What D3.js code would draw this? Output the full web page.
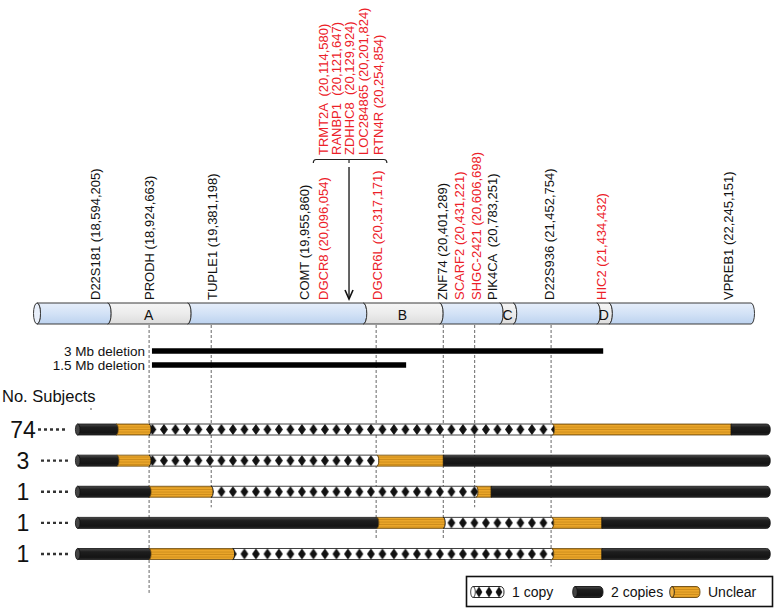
<!DOCTYPE html>
<html><head><meta charset="utf-8">
<script src="https://cdn.jsdelivr.net/npm/d3@7/dist/d3.min.js"></script>
<style>
html,body{margin:0;padding:0;background:#fff;}
text{font-family:"Liberation Sans",Arial,sans-serif;white-space:pre;}
</style></head>
<body><svg id="chart" width="778" height="609"></svg>
<script>
// ---------- DATA (schematic map units 0-100 along the chromosome bar) ----------
const geneNames = ["D22S181","PRODH","TUPLE1","COMT","DGCR8","DGCR6L","ZNF74","SCARF2","SHGC-2421","PIK4CA ","D22S936","HIC2","VPREB1"];
const geneCoords = ["18,594,205","18,924,663","19,381,198","19,955,860","20,096,054","20,317,171","20,401,289","20,431,221","20,606,698","20,783,251","21,452,754","21,434,432","22,245,151"];
const geneMapPos = [8.1,15.8,24.6,37.5,40.1,47.6,56.7,59.2,61.5,63.7,71.8,79.1,96.8];
const geneIsRed = [false,false,false,false,true,true,false,true,true,false,false,true,false];

const clusterNames = ["TRMT2A ","RANBP1 ","ZDHHC8 ","LOC284865","RTN4R"];
const clusterCoords = ["20,114,580","20,121,647","20,129,924","20,201,824","20,254,854"];
const clusterMapPos = [40.1,41.9,43.8,45.7,47.8];
const clusterSpan = [38.7,49.0];
const clusterArrowPos = 43.7;

const bandBreaks = [0,9.9,21.1,45.7,56.4,64.8,66.7,78.4,80.1,100];
const bandLabels = ["","A","","B","","C","","D",""];

const deletionNames = ["3 Mb deletion","1.5 Mb deletion"];
const deletionStart = [16.1,16.1];
const deletionEnd = [79.3,51.7];

const subjectCounts = ["74","3","1","1","1"];
const rowBreaks = [
  [5.7,11.1,15.7,72.2,97.2,102.7],
  [5.7,11.2,15.7,47.6,56.9,102.7],
  [5.7,15.7,24.4,61.5,63.6,102.7],
  [5.7,47.6,56.9,72.1,79.1,102.7],
  [5.7,15.7,27.4,72.1,79.1,102.7]
];
const rowStates = [
  ["two","unclear","one","unclear","two"],
  ["two","unclear","one","unclear","two"],
  ["two","unclear","one","unclear","two"],
  ["two","unclear","one","unclear","two"],
  ["two","unclear","one","unclear","two"]
];

const guidePos = [15.7,24.4,47.5,56.9,61.3,72.0];
const guideEndRow = [5.25,2.5,3.5,3.5,2.5,4.4];

const legendKeys = ["one","two","unclear"];
const legendLabels = ["1 copy","2 copies","Unclear"];

// ---------- DRAWING ----------
const svg = d3.select("#chart");
const defs = svg.append("defs");
const x = d3.scaleLinear().domain([0,100]).range([37,751]);
const yRow = d3.scaleLinear().domain([0,4]).range([429.5,554]);
const barTop = 303, barBot = 324, barH = barBot-barTop;
const RED = "#ec2028";

function vgrad(id, stops){
  const g = defs.append("linearGradient").attr("id",id).attr("x1",0).attr("y1",0).attr("x2",0).attr("y2",1);
  stops.forEach(s=>g.append("stop").attr("offset",s[0]).attr("stop-color",s[1]));
}
vgrad("gBlue",[[0,"#e6eefa"],[0.5,"#d3e2f6"],[1,"#bcd2ef"]]);
vgrad("gGray",[[0,"#f6f6f6"],[0.5,"#ececec"],[1,"#dcdcdc"]]);
vgrad("gBlack",[[0,"#4a4a4a"],[0.3,"#1e1e1e"],[0.8,"#141414"],[1,"#2c2c2c"]]);
const stripe = defs.append("pattern").attr("id","pOrange").attr("patternUnits","userSpaceOnUse")
  .attr("width",6).attr("height",2.5);
stripe.append("rect").attr("width",6).attr("height",2.5).attr("fill","#eba62a");
stripe.append("rect").attr("y",1.6).attr("width",6).attr("height",0.8).attr("fill","#c78816");

function diamondPattern(id, x0, y0, w, h){
  const p = defs.append("pattern").attr("id",id).attr("patternUnits","userSpaceOnUse")
    .attr("x",x0).attr("y",y0).attr("width",w).attr("height",h);
  p.append("rect").attr("width",w).attr("height",h).attr("fill","#fff");
  const c = w/2, hw = w*0.34;
  p.append("path").attr("d",`M${c-hw},${h/2}L${c},0L${c+hw},${h/2}L${c},${h}Z`).attr("fill","#111");
}

function segPath(x0,x1,t,b,r){
  const ry=(b-t)/2;
  return `M${x0},${t}L${x1},${t}A${r},${ry} 0 0 1 ${x1},${b}L${x0},${b}A${r},${ry} 0 0 0 ${x0},${t}Z`;
}

// --- chromosome bar ---
const gBar = svg.append("g");
bandLabels.forEach((lab,i)=>{
  const x0=x(bandBreaks[i]), x1=x(bandBreaks[i+1]);
  gBar.append("path").attr("d",segPath(x0,x1,barTop,barBot,3.5))
    .attr("fill", lab ? "url(#gGray)" : "url(#gBlue)")
    .attr("stroke","#3a3a3a").attr("stroke-width",1);
  if(lab){
    gBar.append("text").attr("x",(x0+x1)/2+1).attr("y",barBot-4.5).attr("text-anchor","middle")
      .attr("font-size",14).attr("fill","#111").text(lab);
  }
});
gBar.append("ellipse").attr("cx",x(0)).attr("cy",(barTop+barBot)/2).attr("rx",3.5).attr("ry",barH/2)
  .attr("fill","#e9f0fb").attr("stroke","#3a3a3a");

// --- gene labels (rotated) ---
const labelBase = 300;
geneNames.forEach((n,i)=>{
  svg.append("text").attr("transform",`translate(${x(geneMapPos[i])},${labelBase}) rotate(-90)`)
    .attr("dy","0.36em").attr("font-size",13).attr("fill",geneIsRed[i]?RED:"#111")
    .text(`${n} (${geneCoords[i]})`);
});
clusterNames.forEach((n,i)=>{
  svg.append("text").attr("transform",`translate(${x(clusterMapPos[i])},155) rotate(-90)`)
    .attr("dy","0.36em").attr("font-size",13).attr("fill",RED)
    .text(`${n} (${clusterCoords[i]})`);
});
const bx0=x(clusterSpan[0]), bx1=x(clusterSpan[1]), bxc=x(clusterArrowPos);
svg.append("path").attr("d",`M${bx0},163Q${bx0},159.5 ${bx0+3},159.5L${bx1-3},159.5Q${bx1},159.5 ${bx1},163M${bxc},159.5L${bxc},163`)
  .attr("fill","none").attr("stroke","#222").attr("stroke-width",1.2);
svg.append("line").attr("x1",bxc).attr("y1",167).attr("x2",bxc).attr("y2",298).attr("stroke","#111").attr("stroke-width",1.3);
svg.append("path").attr("d",`M${bxc-4},290L${bxc},299L${bxc+4},290`).attr("fill","none").attr("stroke","#111").attr("stroke-width",1.6);

// --- guide dashed lines ---
guidePos.forEach((p,i)=>{
  svg.append("line").attr("x1",x(p)).attr("x2",x(p)).attr("y1",barBot+1).attr("y2",yRow(guideEndRow[i]))
    .attr("stroke","#555").attr("stroke-width",0.9).attr("stroke-dasharray","3,2");
});

// --- deletions ---
const delY = d3.scalePoint().domain(deletionNames).range([351,365]);
deletionNames.forEach((n,i)=>{
  svg.append("line").attr("x1",x(deletionStart[i])).attr("x2",x(deletionEnd[i]))
    .attr("y1",delY(n)).attr("y2",delY(n)).attr("stroke","#000").attr("stroke-width",5.5);
  svg.append("text").attr("x",145).attr("y",delY(n)+4.5).attr("text-anchor","end")
    .attr("font-size",13.5).attr("fill","#111").text(n);
});

// --- subjects ---
svg.append("text").attr("x",2).attr("y",402).attr("font-size",16.5).attr("fill","#111").text("No. Subjects");
svg.append("circle").attr("cx",91).attr("cy",409).attr("r",0.8).attr("fill","#333");

const rowH = 11;
function fillFor(state, id){
  return state==="two" ? "url(#gBlack)" : state==="unclear" ? "url(#pOrange)" : `url(#${id})`;
}
subjectCounts.forEach((cnt,r)=>{
  const cy = yRow(r), t = cy-rowH/2, b = cy+rowH/2;
  const pid = "pDia"+r;
  diamondPattern(pid, x(rowBreaks[r][0]), t, 11.5, rowH);
  const g = svg.append("g");
  rowStates[r].forEach((s,k)=>{
    const x0 = x(rowBreaks[r][k]), x1 = x(rowBreaks[r][k+1]);
    const last = k===rowStates[r].length-1;
    g.append("path").attr("d", last ? `M${x0},${t}L${x1-4},${t}Q${x1},${t} ${x1},${cy}Q${x1},${b} ${x1-4},${b}L${x0},${b}Z` : segPath(x0,x1,t,b,2))
      .attr("fill", fillFor(s,pid)).attr("stroke", s==="unclear" ? "#6b4a10" : "#111").attr("stroke-width",0.8);
  });
  g.append("ellipse").attr("cx",x(rowBreaks[r][0])).attr("cy",cy).attr("rx",2.3).attr("ry",rowH/2)
    .attr("fill","#444").attr("stroke","#111").attr("stroke-width",0.8);
  svg.append("text").attr("x",23).attr("y",cy+8).attr("text-anchor","middle")
    .attr("font-size",23).attr("fill","#111").text(cnt);
  svg.append("line").attr("x1",r===0?38:41).attr("x2",68).attr("y1",cy).attr("y2",cy)
    .attr("stroke","#333").attr("stroke-width",2.4).attr("stroke-dasharray","3,3");
});

// --- legend ---
const lg = svg.append("g");
lg.append("rect").attr("x",466.5).attr("y",576.5).attr("width",306).attr("height",30)
  .attr("fill","#fff").attr("stroke","#111").attr("stroke-width",1.6);
const legX = d3.scaleOrdinal().domain(legendKeys).range([473,575,672]);
const legW = {one:31,two:28,unclear:28};
legendKeys.forEach((k,i)=>{
  const x0 = legX(k), w = legW[k], cy=592, t=cy-5.5, b=cy+5.5;
  const pid = "pDiaLeg";
  if(k==="one") diamondPattern(pid, x0+1, t, 10, 11);
  lg.append("path").attr("d",`M${x0},${t}L${x0+w-4},${t}Q${x0+w},${t} ${x0+w},${cy}Q${x0+w},${b} ${x0+w-4},${b}L${x0},${b}Z`)
    .attr("fill", fillFor(k,pid)).attr("stroke", k==="unclear"?"#6b4a10":"#111").attr("stroke-width",0.9);
  lg.append("ellipse").attr("cx",x0).attr("cy",cy).attr("rx",2.3).attr("ry",5.5)
    .attr("fill", k==="two"?"#444":(k==="unclear"?"#f0b040":"#fff")).attr("stroke","#111").attr("stroke-width",0.8);
  lg.append("text").attr("x",x0+w+8).attr("y",cy+5).attr("font-size",14).attr("fill","#111").text(legendLabels[i]);
});
</script></body></html>
